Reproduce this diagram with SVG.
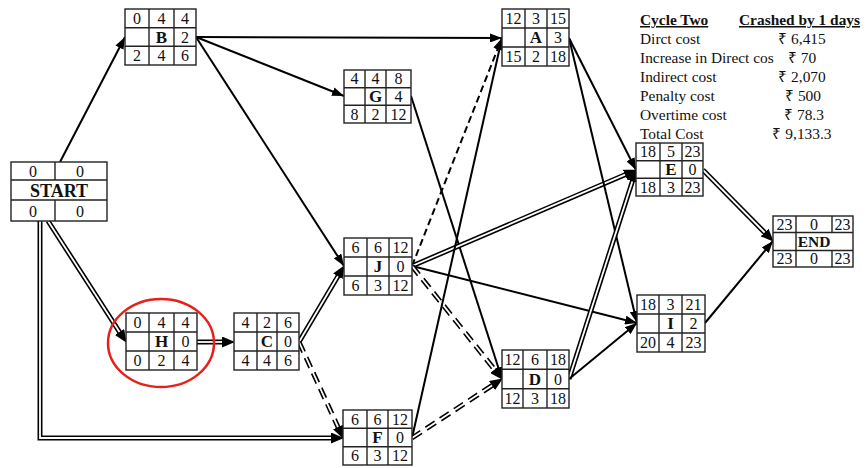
<svg xmlns="http://www.w3.org/2000/svg" width="866" height="468" viewBox="0 0 866 468">
<style>
.bx{fill:#fff;stroke:#222;stroke-width:1.4}
.ln{stroke:#222;stroke-width:1.4;fill:none}
.t{font-family:"Liberation Serif","Times New Roman",serif;font-size:16px;fill:#111;text-anchor:middle}
.b{font-weight:bold;font-size:17px}
.s{stroke:#000;stroke-width:2;fill:none}
.sd{stroke:#000;stroke-width:2;fill:none;stroke-dasharray:7 4}
.dk{stroke:#000;stroke-width:5;fill:none;stroke-linejoin:miter}
.dkd{stroke:#000;stroke-width:5;fill:none;stroke-dasharray:11 6}
.dw{stroke:#fff;stroke-width:1.8;fill:none;stroke-linejoin:miter}
.tb{font-family:"Liberation Serif","Times New Roman",serif;font-size:15.4px;fill:#111}
</style>
<defs>
<marker id="a" markerUnits="userSpaceOnUse" markerWidth="12" markerHeight="9" refX="12" refY="4.5" orient="auto"><path d="M0,0 L12,4.5 L0,9 z" fill="#000"/></marker>
<marker id="a2" markerUnits="userSpaceOnUse" markerWidth="13" markerHeight="11" refX="4" refY="5.5" orient="auto"><path d="M0,0 L13,5.5 L0,11 z" fill="#000"/></marker>
</defs>
<rect width="866" height="468" fill="#fff"/>
<g id="connectors">
<path class="s" d="M60,162 L125,37" marker-end="url(#a)"/>
<path class="dk" d="M48,221 L121.7,335.3" marker-end="url(#a2)"/>
<path class="dw" d="M48,221 L119.5,331.9"/>
<path class="dk" d="M40,221 L40,438 L335,438" marker-end="url(#a2)"/>
<path class="dw" d="M40,221 L40,438 L331,438"/>
<path class="s" d="M196,37 L502,38" marker-end="url(#a)"/>
<path class="s" d="M196,37 L344,96" marker-end="url(#a)"/>
<path class="s" d="M196,37 L344,266" marker-end="url(#a)"/>
<path class="dk" d="M197,342 L226,342" marker-end="url(#a2)"/>
<path class="dw" d="M197,342 L222,342"/>
<path class="dk" d="M299,342 L339.9,272.9" marker-end="url(#a2)"/>
<path class="dw" d="M299,342 L337.9,276.3"/>
<path class="dkd" d="M299,342 L339.7,430.7" marker-end="url(#a2)"/>
<path class="dw" d="M299,342 L338,427.1"/>
<path class="s" d="M411,96 L502,379" marker-end="url(#a)"/>
<path class="sd" d="M412,266 L502,38" marker-end="url(#a)"/>
<path class="dk" d="M412,266 L628.6,173.2" marker-end="url(#a2)"/>
<path class="dw" d="M412,266 L625,174.7"/>
<path class="s" d="M412,266 L637,323" marker-end="url(#a)"/>
<path class="dkd" d="M412,266 L497,372.7" marker-end="url(#a2)"/>
<path class="dw" d="M412,266 L494.5,369.6"/>
<path class="s" d="M412,438 L502,38" marker-end="url(#a)"/>
<path class="dkd" d="M412,438 L495.3,383.4" marker-end="url(#a2)"/>
<path class="dw" d="M412,438 L492,385.6"/>
<path class="s" d="M569,38 L636,170" marker-end="url(#a)"/>
<path class="s" d="M569,38 L637,323" marker-end="url(#a)"/>
<path class="dk" d="M569,379 L633.6,177.6" marker-end="url(#a2)"/>
<path class="dw" d="M569,379 L632.3,181.4"/>
<path class="s" d="M569,379 L637,323" marker-end="url(#a)"/>
<path class="dk" d="M703,170 L767.4,235.3" marker-end="url(#a2)"/>
<path class="dw" d="M703,170 L764.6,232.5"/>
<path class="s" d="M705,323 L773,241" marker-end="url(#a)"/>
</g>
<g id="START">
<rect class="bx" x="11" y="162" width="96" height="59"/>
<path class="ln" d="M11,180 H107 M11,200 H107 M55,162 V180 M55,200 V221"/>
<text class="t" x="33" y="176.5">0</text><text class="t" x="80" y="176.5">0</text>
<text class="t b" x="59" y="196.5" style="font-size:18px">START</text>
<text class="t" x="33" y="216.5">0</text><text class="t" x="80" y="216.5">0</text>
</g>
<g id="B">
<rect class="bx" x="125" y="9" width="71" height="56"/>
<path class="ln" d="M125,27.7 H196 M125,46.3 H196 M149,9 V65 M174,9 V65"/>
<text class="t" x="137" y="23.8">0</text><text class="t" x="161.5" y="23.8">4</text><text class="t" x="185" y="23.8">4</text>
<text class="t b" x="161.5" y="42.5">B</text><text class="t" x="185" y="42.5">2</text>
<text class="t" x="137" y="61.2">2</text><text class="t" x="161.5" y="61.2">4</text><text class="t" x="185" y="61.2">6</text>
</g>
<g id="G">
<rect class="bx" x="344" y="70" width="67" height="53"/>
<path class="ln" d="M344,87.7 H411 M344,105.3 H411 M365,70 V123 M386,70 V123"/>
<text class="t" x="354.5" y="84.3">4</text><text class="t" x="375.5" y="84.3">4</text><text class="t" x="398.5" y="84.3">8</text>
<text class="t b" x="375.5" y="102">G</text><text class="t" x="398.5" y="102">4</text>
<text class="t" x="354.5" y="119.7">8</text><text class="t" x="375.5" y="119.7">2</text><text class="t" x="398.5" y="119.7">12</text>
</g>
<g id="A">
<rect class="bx" x="502" y="9" width="67" height="57"/>
<path class="ln" d="M502,28 H569 M502,47 H569 M525,9 V66 M547,9 V66"/>
<text class="t" x="513.5" y="24">12</text><text class="t" x="536" y="24">3</text><text class="t" x="558" y="24">15</text>
<text class="t b" x="536" y="43">A</text><text class="t" x="558" y="43">3</text>
<text class="t" x="513.5" y="62">15</text><text class="t" x="536" y="62">2</text><text class="t" x="558" y="62">18</text>
</g>
<g id="E">
<rect class="bx" x="636" y="143" width="67" height="53"/>
<path class="ln" d="M636,160.7 H703 M636,178.3 H703 M660,143 V196 M682,143 V196"/>
<text class="t" x="648" y="157.3">18</text><text class="t" x="671" y="157.3">5</text><text class="t" x="692.5" y="157.3">23</text>
<text class="t b" x="671" y="175">E</text><text class="t" x="692.5" y="175">0</text>
<text class="t" x="648" y="192.7">18</text><text class="t" x="671" y="192.7">3</text><text class="t" x="692.5" y="192.7">23</text>
</g>
<g id="I">
<rect class="bx" x="637" y="295" width="68" height="57"/>
<path class="ln" d="M637,314 H705 M637,333 H705 M659,295 V352 M682,295 V352"/>
<text class="t" x="648" y="310">18</text><text class="t" x="670.5" y="310">3</text><text class="t" x="693.5" y="310">21</text>
<text class="t b" x="670.5" y="329">I</text><text class="t" x="693.5" y="329">2</text>
<text class="t" x="648" y="348">20</text><text class="t" x="670.5" y="348">4</text><text class="t" x="693.5" y="348">23</text>
</g>
<g id="D">
<rect class="bx" x="502" y="350" width="67" height="58"/>
<path class="ln" d="M502,369.3 H569 M502,388.7 H569 M523,350 V408 M547,350 V408"/>
<text class="t" x="512.5" y="365.2">12</text><text class="t" x="535" y="365.2">6</text><text class="t" x="558" y="365.2">18</text>
<text class="t b" x="535" y="384.5">D</text><text class="t" x="558" y="384.5">0</text>
<text class="t" x="512.5" y="403.8">12</text><text class="t" x="535" y="403.8">3</text><text class="t" x="558" y="403.8">18</text>
</g>
<g id="J">
<rect class="bx" x="344" y="238" width="68" height="57"/>
<path class="ln" d="M344,257 H412 M344,276 H412 M367,238 V295 M389,238 V295"/>
<text class="t" x="355.5" y="253">6</text><text class="t" x="378" y="253">6</text><text class="t" x="400.5" y="253">12</text>
<text class="t b" x="378" y="272">J</text><text class="t" x="400.5" y="272">0</text>
<text class="t" x="355.5" y="291">6</text><text class="t" x="378" y="291">3</text><text class="t" x="400.5" y="291">12</text>
</g>
<g id="H">
<rect class="bx" x="126" y="313" width="71" height="57"/>
<path class="ln" d="M126,332 H197 M126,351 H197 M149,313 V370 M174,313 V370"/>
<text class="t" x="137.5" y="328">0</text><text class="t" x="161.5" y="328">4</text><text class="t" x="185.5" y="328">4</text>
<text class="t b" x="161.5" y="347">H</text><text class="t" x="185.5" y="347">0</text>
<text class="t" x="137.5" y="366">0</text><text class="t" x="161.5" y="366">2</text><text class="t" x="185.5" y="366">4</text>
</g>
<g id="C">
<rect class="bx" x="234" y="313" width="65" height="57"/>
<path class="ln" d="M234,332 H299 M234,351 H299 M257,313 V370 M277,313 V370"/>
<text class="t" x="245.5" y="328">4</text><text class="t" x="267" y="328">2</text><text class="t" x="288" y="328">6</text>
<text class="t b" x="267" y="347">C</text><text class="t" x="288" y="347">0</text>
<text class="t" x="245.5" y="366">4</text><text class="t" x="267" y="366">4</text><text class="t" x="288" y="366">6</text>
</g>
<g id="F">
<rect class="bx" x="343" y="410" width="69" height="55"/>
<path class="ln" d="M343,428.3 H412 M343,446.7 H412 M367,410 V465 M388,410 V465"/>
<text class="t" x="355" y="424.7">6</text><text class="t" x="377.5" y="424.7">6</text><text class="t" x="400" y="424.7">12</text>
<text class="t b" x="377.5" y="443">F</text><text class="t" x="400" y="443">0</text>
<text class="t" x="355" y="461.3">6</text><text class="t" x="377.5" y="461.3">3</text><text class="t" x="400" y="461.3">12</text>
</g>
<g id="END">
<rect class="bx" x="773" y="216" width="80" height="51"/>
<path class="ln" d="M773,232.5 H853 M773,250.5 H853 M796,216 V267 M832,216 V232.5 M832,250.5 V267"/>
<text class="t" x="784.5" y="229.5">23</text><text class="t" x="814" y="229.5">0</text><text class="t" x="842.5" y="229.5">23</text>
<text class="t b" x="814" y="246.5" style="font-size:15.5px">END</text>
<text class="t" x="784.5" y="264">23</text><text class="t" x="814" y="264">0</text><text class="t" x="842.5" y="264">23</text>
</g>
<ellipse id="highlight" cx="161" cy="343" rx="53" ry="44" fill="none" stroke="#e8201a" stroke-width="2.5"/>
<g id="cost-table">
<text class="tb" x="640" y="25" font-weight="bold" text-decoration="underline">Cycle Two</text>
<text class="tb" x="739" y="25" font-weight="bold" text-decoration="underline">Crashed by 1 days</text>
<text class="tb" x="640" y="44">Dirct cost</text>
<text class="tb" x="640" y="63">Increase in Direct cos</text>
<text class="tb" x="640" y="82">Indirect cost</text>
<text class="tb" x="640" y="101">Penalty cost</text>
<text class="tb" x="640" y="120">Overtime cost</text>
<text class="tb" x="640" y="139">Total Cost</text>
<g text-anchor="middle">
<text class="tb" x="802" y="44">₹ 6,415</text>
<text class="tb" x="802" y="63">₹ 70</text>
<text class="tb" x="802" y="82">₹ 2,070</text>
<text class="tb" x="803" y="101">₹ 500</text>
<text class="tb" x="804" y="120">₹ 78.3</text>
<text class="tb" x="802" y="139">₹ 9,133.3</text>
</g>
</g>
</svg>
